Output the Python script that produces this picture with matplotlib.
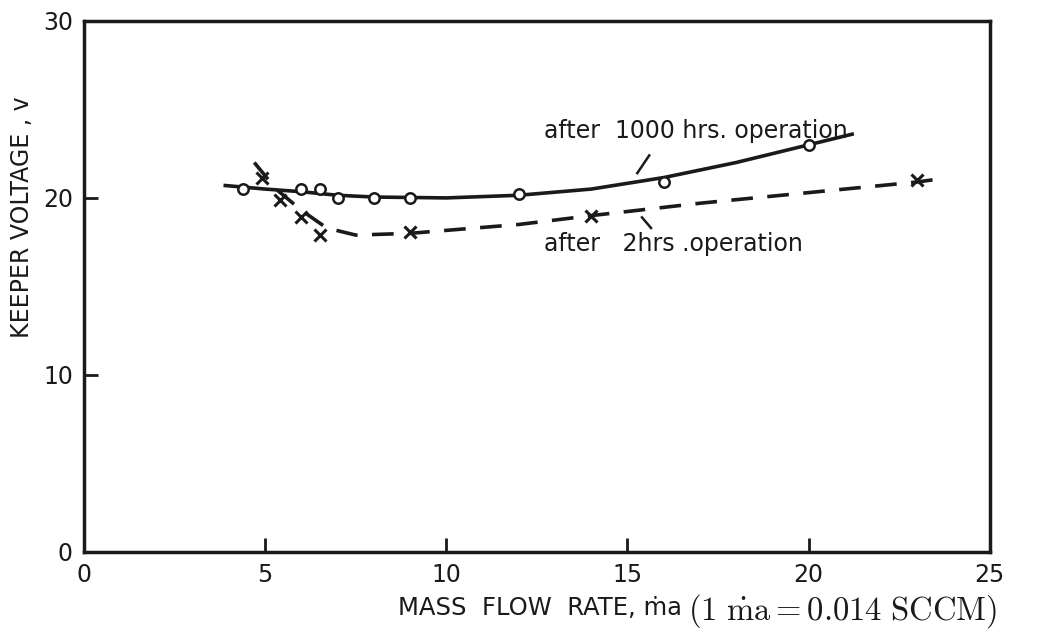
import numpy as np
import matplotlib.pyplot as plt

# 1000 hrs operation (open circles)
x_1000 = [4.4, 6.0, 6.5, 7.0, 8.0, 9.0, 12.0, 16.0, 20.0]
v_1000 = [20.5, 20.5, 20.5, 20.0, 20.0, 20.0, 20.2, 20.9, 23.0]
# hand-drawn fit through them
xc_1000 = [3.9, 5.0, 6.0, 7.0, 8.0, 10.0, 12.0, 14.0, 16.0, 18.0, 20.0, 21.2]
vc_1000 = [20.7, 20.5, 20.35, 20.15, 20.05, 20.0, 20.15, 20.5, 21.15, 22.0, 23.0, 23.6]

# 2 hrs operation (crosses)
x_2 = [4.9, 5.4, 6.0, 6.5, 9.0, 14.0, 23.0]
v_2 = [21.1, 19.9, 18.9, 17.9, 18.1, 19.0, 21.0]
xc_2 = [4.7, 5.3, 6.0, 6.7, 7.5, 9.0, 12.0, 14.0, 17.0, 20.0, 23.0, 23.7]
vc_2 = [22.0, 20.5, 19.3, 18.3, 17.9, 18.0, 18.5, 19.0, 19.7, 20.3, 20.9, 21.1]

INK = '#1a1a1a'
plt.rcParams.update({'font.family': 'DejaVu Sans', 'mathtext.fontset': 'cm'})

fig = plt.figure(figsize=(10.46, 6.33), dpi=100)
ax = fig.add_axes([0.0803, 0.128, 0.866, 0.839])

ax.plot(xc_1000, vc_1000, '-', color=INK, lw=2.6, zorder=2)
ax.plot(x_1000, v_1000, 'o', ms=7.5, mfc='white', mec=INK, mew=1.8, zorder=3)

ax.plot(xc_2, vc_2, '--', color=INK, lw=2.6, dashes=(6, 4), zorder=2)
ax.plot(x_2, v_2, 'x', ms=9, color=INK, mew=2.2, zorder=3)

ax.set_xlim(0, 25)
ax.set_ylim(0, 30)
ax.set_xticks([0, 5, 10, 15, 20, 25])
ax.set_yticks([0, 10, 20, 30])
ax.tick_params(direction='in', length=10, width=2, colors=INK,
               labelsize=17, pad=8)
for s in ax.spines.values():
    s.set_linewidth(2.5)
    s.set_color(INK)

ax.text(12.7, 23.4, 'after  1000 hrs. operation', fontsize=17, color=INK)
ax.plot([15.27, 15.6], [21.4, 22.4], color=INK, lw=1.8)
ax.text(12.7, 17.0, 'after   2hrs .operation', fontsize=17, color=INK)
ax.plot([15.4, 15.65], [18.9, 18.3], color=INK, lw=1.8)

ax.set_ylabel('KEEPER VOLTAGE , v', fontsize=17, color=INK)
ax.yaxis.set_label_coords(-0.055, 0.63)
fig.text(0.652, 0.02, 'MASS  FLOW  RATE, ṁa', ha='right', va='bottom',
         fontsize=17.5, color=INK)
fig.text(0.658, 0.004, r'$(1\ \dot{\mathrm{m}}\mathrm{a} = 0.014\ \mathrm{SCCM})$',
         ha='left', va='bottom', fontsize=23.5, color=INK)

fig.savefig('out.png', dpi=100, facecolor='white')
